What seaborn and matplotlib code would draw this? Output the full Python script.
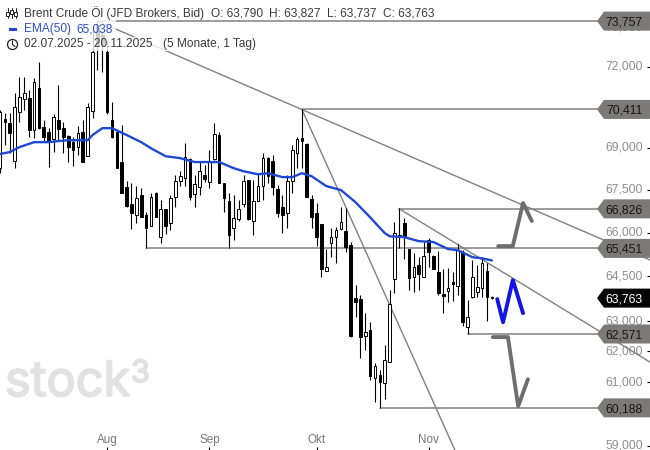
import matplotlib
matplotlib.use("Agg")
import matplotlib.pyplot as plt
import matplotlib.patheffects as pe
import seaborn as sns
from matplotlib.patches import Circle, Polygon, Rectangle
from matplotlib.ticker import FuncFormatter, NullFormatter, NullLocator
from matplotlib.transforms import IdentityTransform

# Daily candles, 02.07.2025 - 20.11.2025
opens = [68.27, 70.05, 69.90, 68.52, 70.31, 70.79, 70.83, 69.65, 71.20, 69.76,
         69.58, 69.32, 70.02, 69.72, 69.43, 69.21, 69.03, 69.58, 68.70, 70.35,
         73.60, 73.22, 72.56, 70.02, 69.58, 68.49, 67.59, 66.99, 66.60, 67.31,
         66.60, 66.22, 67.38, 65.84, 66.82, 66.33, 67.24, 67.81, 67.91, 68.59,
         67.34, 67.59, 68.02, 67.77, 68.59, 69.47, 67.74, 67.10, 66.15, 66.46,
         66.99, 67.84, 66.40, 67.10, 67.63, 68.63, 68.52, 67.52, 66.89, 66.67,
         67.81, 68.81, 69.36, 69.14, 67.17, 66.67, 66.29, 64.67, 65.63, 65.84,
         66.12, 66.05, 65.56, 63.76, 63.73, 62.50, 62.70, 61.13, 61.23, 60.97,
         61.65, 64.40, 65.84, 66.33, 65.43, 64.47, 64.88, 64.47, 65.74, 65.18,
         64.64, 63.89, 64.00, 64.30, 64.16, 65.32, 62.80, 63.79, 63.96, 64.10,
         64.67, 63.790]
highs = [70.38, 70.27, 70.27, 71.02, 71.62, 71.62, 71.13, 71.58, 72.18, 70.02,
         69.72, 70.24, 71.32, 69.94, 69.47, 69.39, 69.79, 70.02, 70.64, 73.41,
         73.76, 73.41, 73.02, 70.68, 69.65, 69.83, 67.81, 67.74, 67.63, 67.56,
         66.71, 67.38, 67.41, 67.13, 66.82, 67.31, 68.02, 68.16, 69.17, 68.63,
         68.02, 68.49, 68.38, 68.92, 69.90, 69.58, 67.74, 67.38, 67.31, 67.13,
         68.02, 67.84, 67.84, 68.09, 68.81, 68.67, 68.74, 67.66, 67.31, 68.02,
         69.10, 69.39, 70.41, 69.17, 67.31, 67.03, 66.29, 65.43, 66.15, 66.19,
         66.89, 66.85, 65.67, 64.20, 63.86, 63.26, 62.96, 61.62, 61.39, 62.20,
         64.03, 66.36, 66.85, 66.50, 65.43, 65.29, 65.15, 65.67, 65.81, 65.22,
         65.36, 64.74, 64.77, 64.64, 65.60, 65.39, 63.69, 65.05, 64.88, 65.15,
         64.94, 63.827]
lows = [68.09, 69.10, 68.81, 68.27, 69.94, 70.38, 69.39, 69.36, 69.68, 69.21,
        68.31, 68.85, 69.28, 68.81, 68.49, 68.34, 68.74, 68.49, 68.70, 70.09,
        71.88, 71.80, 70.24, 69.36, 68.27, 67.38, 66.89, 66.12, 66.33, 66.53,
        65.46, 66.22, 66.53, 65.63, 65.94, 66.08, 66.89, 67.63, 67.63, 67.13,
        66.89, 67.31, 67.77, 67.56, 68.56, 67.74, 66.71, 65.46, 65.74, 66.40,
        66.89, 66.43, 65.91, 67.10, 67.13, 67.74, 67.31, 66.53, 65.98, 66.15,
        67.38, 68.27, 68.27, 67.24, 66.15, 65.53, 64.47, 64.67, 65.15, 64.94,
        66.08, 65.32, 62.47, 63.13, 61.78, 62.04, 61.07, 60.37, 60.19, 60.46,
        61.65, 63.93, 65.46, 65.08, 64.03, 63.96, 64.03, 64.47, 64.81, 64.74,
        63.86, 63.26, 63.63, 63.66, 63.86, 62.83, 62.57, 63.76, 63.79, 63.79,
        63.00, 63.737]
closes = [70.31, 69.94, 69.54, 70.49, 70.87, 71.02, 69.65, 71.43, 69.72, 69.39,
          69.21, 70.13, 69.68, 69.39, 69.03, 68.92, 69.54, 68.49, 70.49, 72.56,
          72.83, 72.83, 70.31, 69.39, 68.27, 67.38, 66.92, 66.67, 67.20, 66.53,
          66.15, 67.24, 66.53, 66.82, 66.22, 67.20, 67.81, 67.98, 68.67, 67.24,
          67.70, 68.16, 67.88, 68.52, 69.50, 67.74, 67.20, 65.91, 66.50, 66.82,
          67.81, 66.46, 67.10, 67.63, 68.63, 67.98, 67.59, 66.67, 66.60, 67.81,
          68.92, 69.32, 69.25, 67.24, 66.53, 65.84, 64.74, 64.81, 65.84, 66.08,
          66.36, 65.49, 62.50, 63.63, 62.47, 62.63, 61.20, 61.52, 61.01, 61.72,
          63.56, 65.98, 65.91, 65.84, 64.43, 64.81, 64.57, 65.18, 65.32, 64.74,
          63.93, 63.83, 64.10, 64.23, 65.39, 62.96, 63.13, 64.47, 64.13, 64.94,
          63.79, 63.763]

# EMA(50), read at every few candles
ema_idx = [0, 2, 4, 7, 10, 12, 14, 18, 19, 21, 23, 26, 29, 31, 34, 37, 40, 45, 48, 50,
           53, 55, 58, 60, 62, 64, 67, 70, 73, 76, 79, 80, 83, 86, 89, 92, 94, 97, 99, 101]
ema_vals = [68.78, 68.85, 69.03, 69.21, 69.21, 69.25, 69.28, 69.28, 69.47, 69.72,
            69.72, 69.47, 69.21, 68.99, 68.70, 68.63, 68.49, 68.49, 68.27, 68.16,
            68.05, 68.09, 67.95, 67.95, 68.09, 67.98, 67.63, 67.49, 67.06, 66.53,
            65.98, 65.87, 65.84, 65.70, 65.67, 65.43, 65.39, 65.15, 65.11, 65.038]

# Horizontal levels: price and the candle they start from
level_vals = [73.757, 70.411, 66.826, 65.451, 62.571, 60.188]
level_start = [20, 62, 82, 30, 96, 78]
last_price = 63.763

# Trendlines, start and end
trend_a_x, trend_a_y = [20, 133.5], [73.757, 65.05]
trend_b_x, trend_b_y = [62, 93.4], [70.411, 58.87]
trend_c_x, trend_c_y = [82, 133.5], [66.826, 61.65]

# Hand drawn scenario paths
up_x, up_y = [102.3, 105.3, 107.4, 109.2], [65.53, 65.53, 67.03, 66.40]
down_x, down_y = [101.2, 104.3, 106.4, 108.4], [62.47, 62.47, 60.24, 61.10]
mid_x, mid_y = [102.1, 103.3, 105.3, 107.4], [63.73, 62.96, 64.37, 63.26]

# 70,500 and 60,000 sit fully behind the price tags, so only the visible ones here
y_ticks = [73.5, 72.0, 69.0, 67.5, 66.0, 64.5, 63.0, 62.0, 61.0, 59.0]
x_tick_pos = [22, 43, 65, 88]
x_tick_labels = ["Aug", "Sep", "Okt", "Nov"]

sns.set_theme(style="white")
plt.rcParams["font.family"] = ["Liberation Sans", "DejaVu Sans"]

fig = plt.figure(figsize=(6.5, 4.5), dpi=100)
ax = fig.add_axes([0, 0, 1, 1])
ax.set_yscale("log")

# Candles
idx = list(range(len(opens)))
ax.vlines(idx, lows, highs, color="black", linewidth=0.8, zorder=2)
for i in idx:
    up = closes[i] > opens[i]
    ax.bar(i, abs(closes[i] - opens[i]), bottom=min(opens[i], closes[i]), width=0.55,
           facecolor="white" if up else "black", edgecolor="black", linewidth=0.7, zorder=3)

# Levels and trendlines
grey = "#808080"
for val, start in zip(level_vals, level_start):
    sns.lineplot(x=[start, 133.5], y=[val, val], ax=ax, color=grey, linewidth=1.1, zorder=1.5)
for xs, ys in [(trend_a_x, trend_a_y), (trend_b_x, trend_b_y), (trend_c_x, trend_c_y)]:
    sns.lineplot(x=xs, y=ys, ax=ax, color=grey, linewidth=1.0, zorder=1.5)

sns.lineplot(x=ema_idx, y=ema_vals, ax=ax, color="#1f49d2", linewidth=1.7, zorder=4)

sns.lineplot(x=up_x, y=up_y, ax=ax, color="#6e6e6e", linewidth=2.8, zorder=4, sort=False)
sns.lineplot(x=down_x, y=down_y, ax=ax, color="#6e6e6e", linewidth=2.8, zorder=4, sort=False)
sns.lineplot(x=mid_x, y=mid_y, ax=ax, color="#1414e6", linewidth=2.8, zorder=4, sort=False)

ax.set_xlim(0, 133.47)
ax.set_ylim(58.87, 74.58)

# Axes inside the frame, no spines
sns.despine(ax=ax, left=True, bottom=True, right=True, top=True)
ax.yaxis.tick_right()
ax.set_yticks(y_ticks)
ax.yaxis.set_minor_locator(NullLocator())
ax.yaxis.set_minor_formatter(NullFormatter())
ax.yaxis.set_major_formatter(FuncFormatter(lambda v, p: f"{v:.3f}".replace(".", ",")))
ax.set_xticks(x_tick_pos)
ax.set_xticklabels(x_tick_labels)
ax.tick_params(axis="y", which="major", right=True, direction="in", length=2.2, width=0.8, color="black",
               pad=-5, labelsize=8.8, labelcolor="#8e8e8e")
ax.tick_params(axis="x", which="major", bottom=True, direction="in", length=2.2, width=0.8, color="black",
               pad=-11.5, labelsize=8.4, labelcolor="#777777")
for lab in ax.get_yticklabels():
    lab.set_ha("right")
    lab.set_va("center")
ax.grid(False)

fig.canvas.draw()


def to_px(val):
    return ax.transData.transform((0, val))[1]


# Price tags on the right, drawn in pixels
def price_tag(val, face, txt_col):
    y = to_px(val)
    pts = [(597, y), (604, y + 9.5), (650, y + 9.5), (650, y - 9.5), (604, y - 9.5)]
    ax.add_patch(Polygon(pts, closed=True, facecolor=face, edgecolor="none",
                         transform=IdentityTransform(), zorder=6, clip_on=False))
    fig.text(643 / 650, y / 450, f"{val:.3f}".replace(".", ","), ha="right", va="center_baseline",
             fontsize=8.8, color=txt_col, zorder=7)


for val in level_vals:
    price_tag(val, "#7b7a78", "#171717")
price_tag(last_price, "#050505", "white")

# Watermark, stroke makes the light cut heavier
thick = [pe.withStroke(linewidth=1.3, foreground="#e1e1e3")]
fig.text(5 / 650, 1 - 396 / 450, "stock", family="Inter", fontsize=35, color="#e1e1e3", va="baseline", ha="left",
         path_effects=thick)
fig.text(131 / 650, 1 - 382 / 450, "3", family="Inter", fontsize=22, color="#e1e1e3", va="baseline", ha="left",
         path_effects=thick)

# Header, white veil behind the text rows
for x0, x1, y0, y1 in [(0, 436, 5, 20), (0, 116, 20, 37), (0, 260, 37, 51)]:
    ax.add_patch(Rectangle((x0, 450 - y1), x1 - x0, y1 - y0, facecolor="white", alpha=0.8, edgecolor="none",
                           transform=IdentityTransform(), zorder=8))

hdr = "#3a3a3a"
fig.text(24 / 650, 1 - 13 / 450, "Brent Crude Öl (JFD Brokers, Bid)", fontsize=8.55, color=hdr, va="center", zorder=9)
fig.text(211 / 650, 1 - 13 / 450, "O: 63,790", fontsize=8.6, color=hdr, va="center", zorder=9)
fig.text(269 / 650, 1 - 13 / 450, "H: 63,827", fontsize=8.6, color=hdr, va="center", zorder=9)
fig.text(327 / 650, 1 - 13 / 450, "L: 63,737", fontsize=8.6, color=hdr, va="center", zorder=9)
fig.text(383 / 650, 1 - 13 / 450, "C: 63,763", fontsize=8.6, color=hdr, va="center", zorder=9)
fig.text(24 / 650, 1 - 29 / 450, "EMA(50)", fontsize=8.6, color="#2a4fc7", va="center", zorder=9)
fig.text(76 / 650, 1 - 29 / 450, "65,038", fontsize=8.6, color="#2a4fc7", va="center", zorder=9)
fig.text(24 / 650, 1 - 44 / 450, "02.07.2025 - 20.11.2025", fontsize=8.6, color=hdr, va="center", zorder=9)
fig.text(163 / 650, 1 - 44 / 450, "(5 Monate, 1 Tag)", fontsize=8.6, color=hdr, va="center", zorder=9)

# Header icons
ident = IdentityTransform()
ax.add_patch(Rectangle((9, 450 - 30.5), 8, 3, facecolor="#1f49d2", edgecolor="none", transform=ident, zorder=9))
ax.add_patch(Circle((12.5, 450 - 44.5), 5, facecolor="white", edgecolor="#222222", linewidth=0.9, transform=ident, zorder=9))
ax.plot([12.5, 12.5, 15], [450 - 41, 450 - 44.5, 450 - 46.5], color="#222222", linewidth=0.8, transform=ident, zorder=10)
for cx, top, bot in [(7.5, 12, 16), (11.5, 10, 14), (15.5, 12, 16)]:
    ax.plot([cx, cx], [450 - 8, 450 - 18], color="#222222", linewidth=0.7, transform=ident, zorder=9)
    ax.add_patch(Rectangle((cx - 1.3, 450 - bot), 2.6, bot - top, facecolor="white", edgecolor="#222222", linewidth=0.7,
                           transform=ident, zorder=10))

ax.set_xlim(0, 133.47)
ax.set_ylim(58.87, 74.58)
ax.set_xlabel("")
ax.set_ylabel("")
fig.savefig("out.png", dpi=100)
